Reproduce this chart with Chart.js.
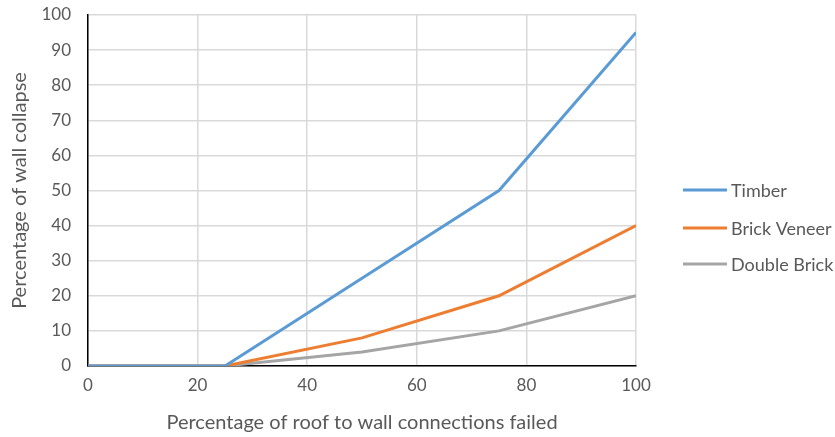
<!DOCTYPE html>
<html>
<head>
<meta charset="utf-8">
<script src="https://cdn.jsdelivr.net/npm/chart.js@4/dist/chart.umd.min.js"></script>
<style>
  html, body { margin: 0; padding: 0; background: #ffffff; }
  #wrap { width: 835px; height: 437px; position: relative; }
</style>
</head>
<body>
<div id="wrap"><canvas id="c" width="835" height="437"></canvas></div>
<script>
// Share of roof-to-wall connections failed (%)
const connectionsFailed = [0, 25, 50, 75, 100];
// Share of wall collapse (%) per construction type
const timber = [0, 0, 25, 50, 95];
const brickVeneer = [0, 0, 8, 20, 40];
const doubleBrick = [0, 0, 4, 10, 20];
const seriesNames = ['Timber', 'Brick Veneer', 'Double Brick'];
const seriesColors = ['#5B9BD5', '#ED7D31', '#A5A5A5'];

const FONT = 'Lato, "Liberation Sans", sans-serif';
const TEXT = '#595959';

function pts(values) {
  return connectionsFailed.map((x, i) => ({ x: x, y: values[i] }));
}

// Legend drawn at the right of the plot, one line sample per series
const sideLegend = {
  id: 'sideLegend',
  afterDraw(chart) {
    const ctx = chart.ctx;
    const rows = [190, 228, 264];
    ctx.save();
    ctx.font = '18px ' + FONT;
    ctx.textBaseline = 'middle';
    ctx.textAlign = 'left';
    chart.data.datasets.forEach((ds, i) => {
      const y = rows[i];
      ctx.strokeStyle = ds.borderColor;
      ctx.lineWidth = 3;
      ctx.beginPath();
      ctx.moveTo(683, y);
      ctx.lineTo(727, y);
      ctx.stroke();
      ctx.fillStyle = TEXT;
      ctx.fillText(ds.label, 731, y + 1);
    });
    ctx.restore();
  }
};

const seriesValues = [timber, brickVeneer, doubleBrick];

new Chart(document.getElementById('c'), {
  type: 'line',
  data: {
    datasets: seriesValues.map((v, i) => ({
      label: seriesNames[i],
      data: pts(v),
      borderColor: seriesColors[i],
      backgroundColor: seriesColors[i],
      borderWidth: 3,
      pointRadius: 0,
      tension: 0,
      fill: false
    }))
  },
  options: {
    responsive: false,
    animation: false,
    layout: { padding: { top: 15, right: 199, left: 0, bottom: 0 } },
    plugins: {
      legend: { display: false },
      tooltip: { enabled: false }
    },
    scales: {
      x: {
        type: 'linear',
        min: 0,
        max: 100,
        ticks: { stepSize: 20, color: TEXT, font: { family: FONT, size: 17 }, padding: 9, maxRotation: 0 },
        grid: { color: '#D9D9D9', lineWidth: 1.5, drawTicks: false },
        border: { color: '#000000', width: 1.5 },
        title: { display: true, text: 'Percentage of roof to wall connections failed', color: TEXT, font: { family: FONT, size: 20 }, padding: { top: 8, bottom: 2 } },
        afterFit(s) { s.height = 71; s.paddingLeft = 0; s.paddingRight = 0; }
      },
      y: {
        min: 0,
        max: 100,
        ticks: { stepSize: 10, color: TEXT, font: { family: FONT, size: 17 }, padding: 17 },
        grid: { color: '#D9D9D9', lineWidth: 1.5, drawTicks: false },
        border: { color: '#000000', width: 1.5 },
        title: { display: true, text: 'Percentage of wall collapse', color: TEXT, font: { family: FONT, size: 20 }, padding: { top: 8, bottom: 0 } },
        afterFit(s) { s.width = 88; s.paddingTop = 0; s.paddingBottom = 0; }
      }
    }
  },
  plugins: [sideLegend]
});
</script>
</body>
</html>
